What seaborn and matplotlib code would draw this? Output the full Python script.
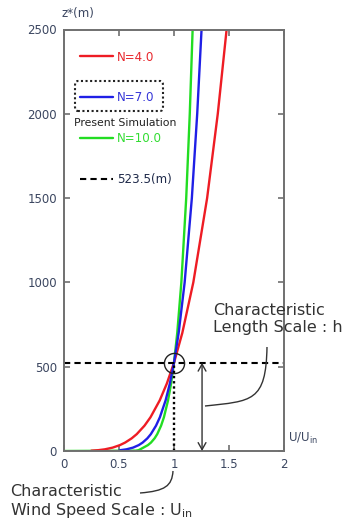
import matplotlib
matplotlib.use("Agg")
import matplotlib.pyplot as plt
import seaborn as sns
import pandas as pd
from matplotlib.patches import FancyBboxPatch, PathPatch
from matplotlib.path import Path

# ---- data ----
z = [0, 2, 5, 10, 20, 35, 50, 75, 100, 150, 200, 300, 400, 523.5,
     700, 1000, 1500, 2000, 2500]
u_n4 = [0.25, 0.2487, 0.3126, 0.3718, 0.4421, 0.5085, 0.5558, 0.6152, 0.6612,
        0.7316, 0.7862, 0.870, 0.9349, 1.0, 1.0754, 1.1756, 1.3011, 1.398, 1.4783]
u_n7 = [0.50, 0.5014, 0.5146, 0.5681, 0.6273, 0.6795, 0.7149, 0.7576, 0.7894,
        0.8364, 0.8716, 0.9235, 0.9623, 1.0, 1.0424, 1.0968, 1.1623, 1.2110, 1.2504]
u_n10 = [0.0, 0.6531, 0.6781, 0.6931, 0.7214, 0.7630, 0.7907, 0.8234, 0.8475,
         0.8825, 0.9083, 0.9458, 0.9735, 1.0, 1.0295, 1.0668, 1.1110, 1.1434, 1.1693]
series_labels = ["N=4.0", "N=7.0", "N=10.0"]
h_label = "523.5(m)"
z_h = 523.5
u_char = 1.0
x_ticks = [0, 0.5, 1, 1.5, 2]
x_ticklabels = ["0", "0.5", "1", "1.5", "2"]
y_ticks = [0, 500, 1000, 1500, 2000, 2500]
y_ticklabels = ["0", "500", "1000", "1500", "2000", "2500"]

rows = []
for lab, us in zip(series_labels, [u_n4, u_n7, u_n10]):
    for zz, uu in zip(z, us):
        rows.append({"N": lab, "z": zz, "U": uu})
df = pd.DataFrame(rows)

sns.set_style("ticks")
plt.rcParams["font.family"] = ["DejaVu Sans"]

W, H = 352, 531
fig = plt.figure(figsize=(W / 100, H / 100), dpi=100)
ax = fig.add_axes([64 / W, 1 - 451 / H, 220 / W, 421.5 / H])

palette = {"N=4.0": "#ee1c24", "N=7.0": "#1f1fe6", "N=10.0": "#22dd22"}
sns.lineplot(data=df, x="U", y="z", hue="N", palette=palette, estimator=None,
             sort=False, lw=1.7, ax=ax, legend=False)
curve_lines = list(ax.lines[:3])
curve_lines[2].set_zorder(1.9)

tick_col = "#3b4660"
hline = ax.axhline(z_h, color="black", ls=(0, (3, 2)), lw=1.5)
ax.plot([u_char, u_char], [0, z_h], color="black", ls=(0, (1, 1.2)), lw=1.7)
ax.plot([u_char], [z_h], marker="o", ms=14.5, mfc="none", mec="#222222", mew=1.0)

ax.set_xlim(0, 2)
ax.set_ylim(0, 2500)
ax.set_xticks(x_ticks)
ax.set_xticklabels(x_ticklabels)
ax.set_yticks(y_ticks)
ax.set_yticklabels(y_ticklabels)
ax.set_xlabel("")
ax.set_ylabel("")
ax.tick_params(direction="in", length=4, width=1.2, color="#707070",
               top=True, right=True, labelsize=8.5, labelcolor=tick_col, pad=5)
for s in ax.spines.values():
    s.set_color("#707070")
    s.set_linewidth(1.4)

# legend
handles = curve_lines + [hline]
labels = series_labels + [h_label]
leg = ax.legend(handles, labels, loc="upper left", bbox_to_anchor=(0.073, 0.950),
                frameon=False, borderpad=0, borderaxespad=0, handlelength=2.75,
                handletextpad=0.35, labelspacing=2.33, fontsize=8.6)
for t, c in zip(leg.get_texts(), ["#e8262c", "#3535d8", "#33dd33", "#1f2a4a"]):
    t.set_color(c)

box = FancyBboxPatch((75 / W, 1 - 111 / H), 88 / W, 30 / H,
                     boxstyle="round,pad=0,rounding_size=0.008",
                     transform=fig.transFigure, fill=False, ec="#222222",
                     lw=1.5, ls=(0, (1, 1.2)))
fig.add_artist(box)
fig.text(74 / W, 1 - 123 / H, "Present Simulation", fontsize=7.8,
         color="#222222", va="center", ha="left")

# axis labels
fig.text(78 / W, 1 - 14 / H, "z*(m)", fontsize=8.5, color=tick_col,
         ha="center", va="center")
fig.text(288 / W, 1 - 438 / H, "U/U$_{\\mathregular{in}}$", fontsize=8.5,
         color=tick_col, ha="left", va="center")

# double-headed arrow for length scale
ax.annotate("", xy=(1.255, 0), xytext=(1.255, z_h),
            arrowprops=dict(arrowstyle="<->,head_length=0.5,head_width=0.28",
                            color="#333333", lw=1.0, shrinkA=0, shrinkB=0))


def fp(x, y):
    return (x / W, 1 - y / H)


# connector: arrow shaft -> length scale text (smooth cubic)
verts = [fp(205, 406), fp(252, 401), fp(266, 402), fp(267, 347)]
codes = [Path.MOVETO, Path.CURVE4, Path.CURVE4, Path.CURVE4]
fig.add_artist(PathPatch(Path(verts, codes), transform=fig.transFigure,
                         fill=False, ec="#333333", lw=1.0))
# connector: tick "1" -> wind speed text
verts2 = [fp(173, 471), fp(172, 486), fp(165, 491), fp(140, 493)]
codes2 = [Path.MOVETO, Path.CURVE4, Path.CURVE4, Path.CURVE4]
fig.add_artist(PathPatch(Path(verts2, codes2), transform=fig.transFigure,
                         fill=False, ec="#333333", lw=1.0))

fig.text(213 / W, 1 - 303 / H, "Characteristic\nLength Scale : h",
         fontsize=11.5, color="#333333", ha="left", va="top", linespacing=1.15)
fig.text(10 / W, 1 - 484 / H, "Characteristic\nWind Speed Scale : U$_{\\mathregular{in}}$",
         fontsize=11.5, color="#333333", ha="left", va="top", linespacing=1.15)

fig.savefig("out.png", dpi=100)
